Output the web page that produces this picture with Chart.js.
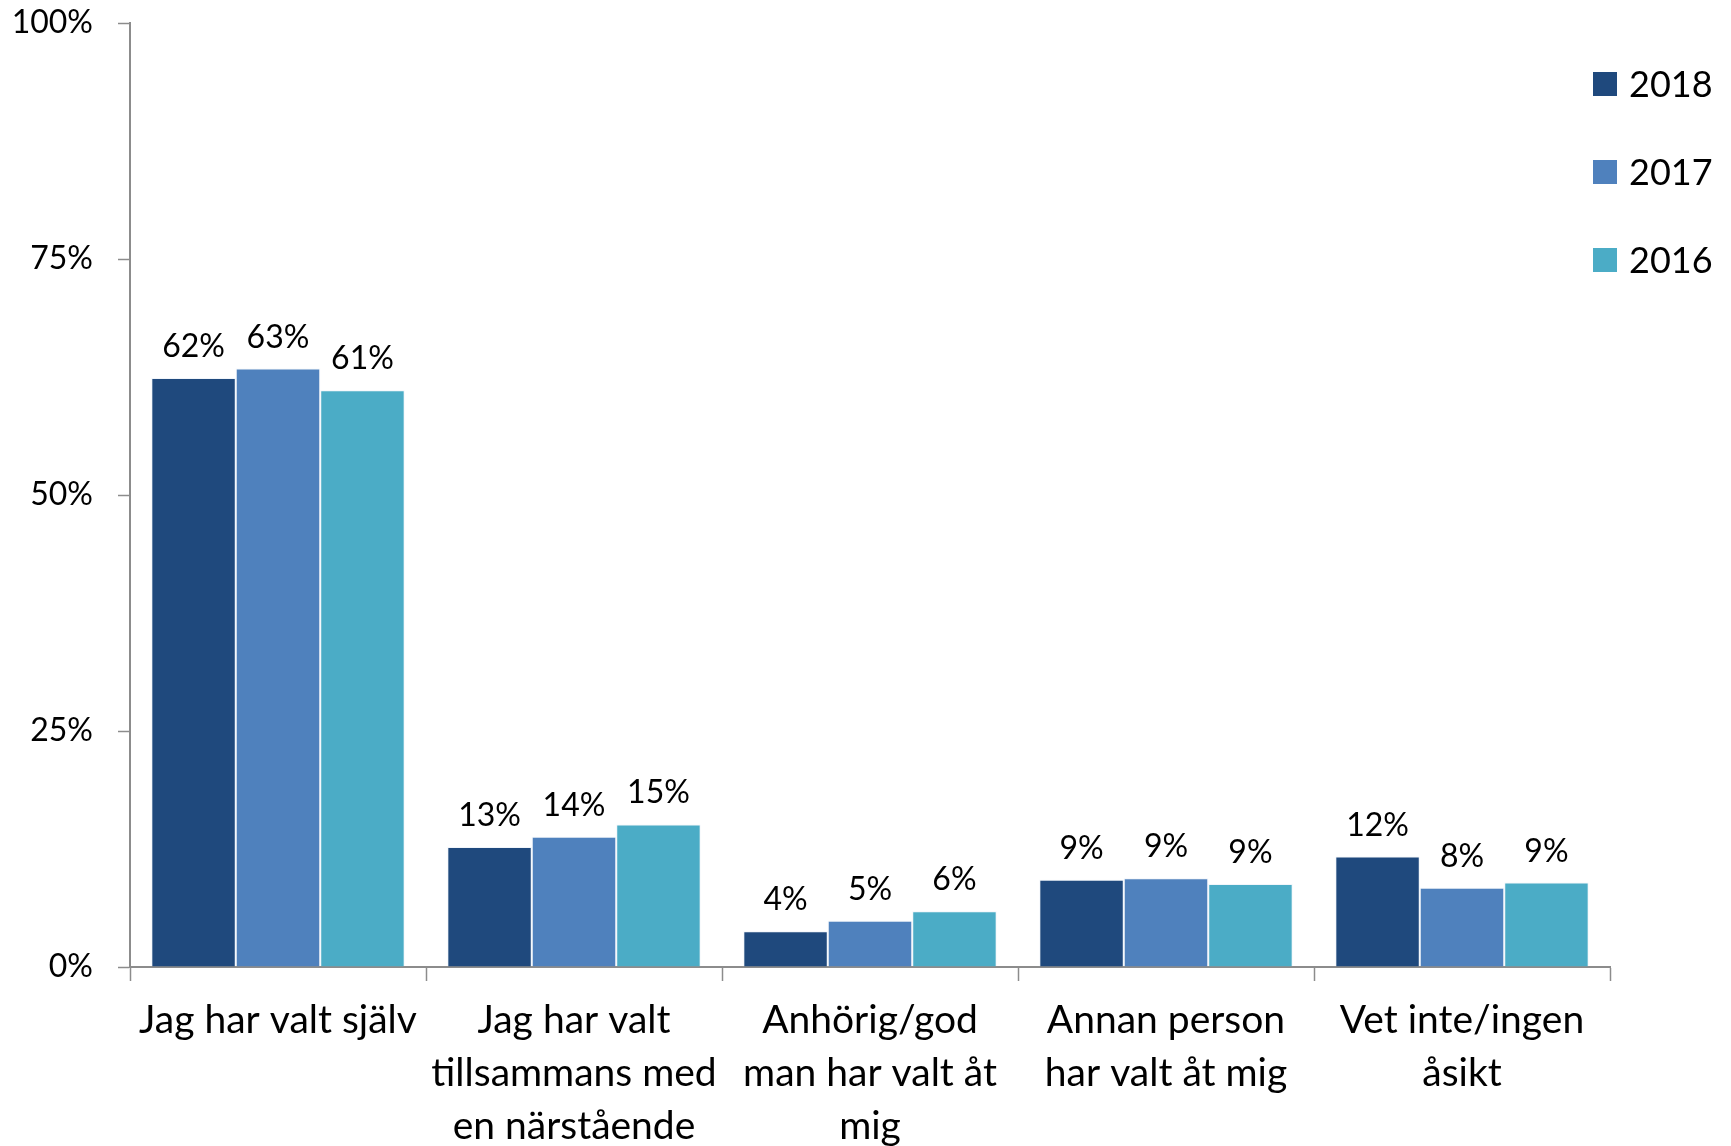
<!DOCTYPE html>
<html>
<head>
<meta charset="utf-8">
<script src="https://cdn.jsdelivr.net/npm/chart.js@4.4.1/dist/chart.umd.min.js"></script>
<style>
  html, body { margin: 0; padding: 0; background: #ffffff; }
  #wrap { width: 1731px; height: 1146px; position: relative; }
</style>
</head>
<body>
<div id="wrap"><canvas id="c" width="1731" height="1146"></canvas></div>
<script>
const categories = [
  "Jag har valt själv",
  ["Jag har valt", "tillsammans med", "en närstående"],
  ["Anhörig/god", "man har valt åt", "mig"],
  ["Annan person", "har valt åt mig"],
  ["Vet inte/ingen", "åsikt"]
];
const seriesNames = ["2018", "2017", "2016"];
const values2018 = [62.4, 12.7, 3.8, 9.25, 11.7];
const values2017 = [63.4, 13.8, 4.9, 9.4, 8.4];
const values2016 = [61.1, 15.1, 5.9, 8.8, 8.95];
const yTicks = [0, 25, 50, 75, 100];
const colors = ["#1F497D", "#4F81BD", "#4BACC6"];

const FONT = "Lato, 'Open Sans', sans-serif";

const dataLabelPlugin = {
  id: "dataLabels",
  afterDatasetsDraw(chart) {
    const ctx = chart.ctx;
    ctx.save();
    ctx.font = "32px " + FONT;
    ctx.fillStyle = "#000000";
    ctx.textAlign = "center";
    ctx.textBaseline = "alphabetic";
    chart.data.datasets.forEach((ds, di) => {
      const meta = chart.getDatasetMeta(di);
      meta.data.forEach((bar, i) => {
        const v = ds.data[i];
        ctx.fillText(Math.round(v) + "%", bar.x, bar.y - 21);
      });
    });
    ctx.restore();
  }
};

const legendPlugin = {
  id: "sideLegend",
  afterDraw(chart) {
    const ctx = chart.ctx;
    ctx.save();
    ctx.font = "36px " + FONT;
    ctx.textAlign = "left";
    ctx.textBaseline = "alphabetic";
    chart.data.datasets.forEach((ds, i) => {
      const cy = 84 + i * 88;
      ctx.fillStyle = ds.backgroundColor;
      ctx.fillRect(1593, cy - 12, 24, 24);
      ctx.fillStyle = "#000000";
      ctx.fillText(ds.label, 1629, cy + 13);
    });
    ctx.restore();
  }
};

const seriesValues = [values2018, values2017, values2016];

new Chart(document.getElementById("c"), {
  type: "bar",
  data: {
    labels: categories,
    datasets: seriesNames.map((name, i) => ({
      label: name,
      data: seriesValues[i],
      backgroundColor: colors[i],
      borderColor: "rgba(200,215,235,0.25)",
      borderWidth: 1,
      borderSkipped: "bottom",
      categoryPercentage: 0.856,
      barPercentage: 1.0
    }))
  },
  options: {
    responsive: false,
    animation: false,
    devicePixelRatio: 1,
    layout: { padding: { top: 0, right: 121, bottom: 0, left: 0 } },
    plugins: {
      legend: { display: false },
      tooltip: { enabled: false }
    },
    scales: {
      x: {
        grid: {
          display: true,
          drawOnChartArea: false,
          drawTicks: true,
          tickLength: 14,
          tickWidth: 1.5,
          tickColor: "#8c8c8c",
          offset: true
        },
        border: { display: true, color: "#8c8c8c", width: 2 },
        ticks: {
          color: "#000000",
          font: { family: FONT, size: 39, lineHeight: 1.36 },
          padding: 13,
          maxRotation: 0,
          minRotation: 0,
          autoSkip: false
        },
        afterFit(scale) { scale.height = 179; }
      },
      y: {
        min: 0,
        max: 100,
        afterBuildTicks(scale) { scale.ticks = yTicks.map(v => ({ value: v })); },
        grid: {
          display: true,
          drawOnChartArea: false,
          drawTicks: true,
          tickLength: 12,
          tickWidth: 1.5,
          tickColor: "#8c8c8c"
        },
        border: { display: true, color: "#8c8c8c", width: 2 },
        ticks: {
          color: "#000000",
          font: { family: FONT, size: 32 },
          padding: 25,
          callback: (v) => v + "%"
        },
        afterFit(scale) {
          scale.width = 130;
          scale.paddingTop = 23;
          scale.paddingBottom = 0;
        }
      }
    }
  },
  plugins: [dataLabelPlugin, legendPlugin]
});
</script>
</body>
</html>
